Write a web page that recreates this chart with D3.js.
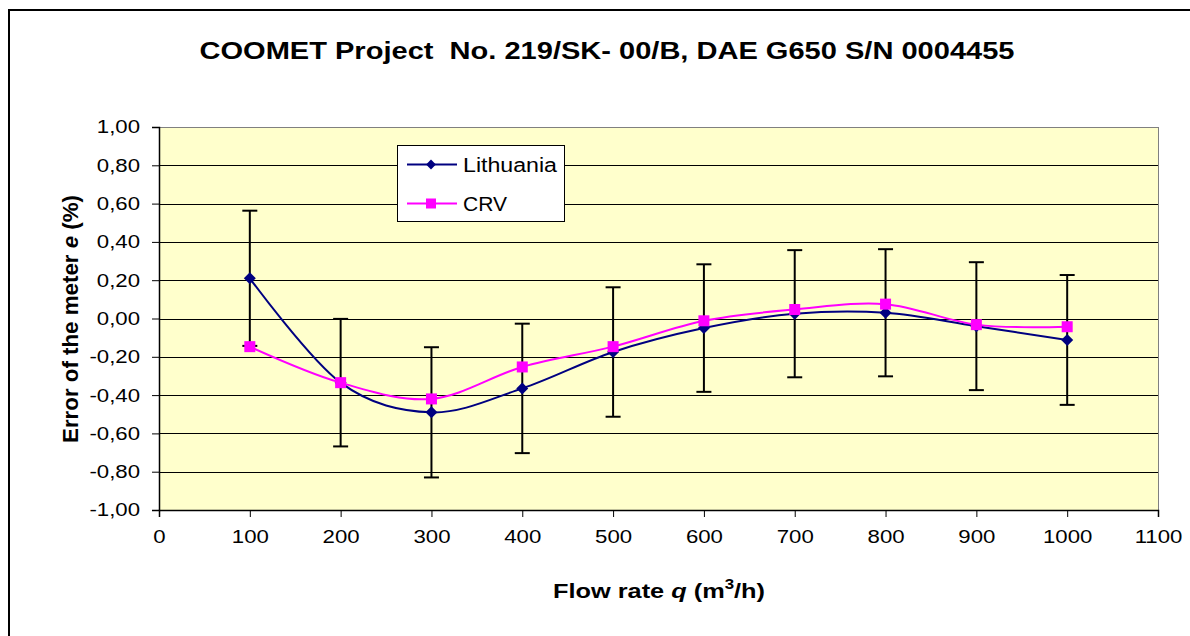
<!DOCTYPE html>
<html>
<head>
<meta charset="utf-8">
<script src="https://cdn.jsdelivr.net/npm/d3@7"></script>
<style>
  body { margin: 0; background: #fff; }
  text { font-family: "Liberation Sans", Arial, sans-serif; }
</style>
</head>
<body>
<div id="chart-area"></div>
<script>
// Data
const flowRates = [100, 200, 300, 400, 500, 600, 700, 800, 900, 1000]
const lithuania = [0.21, -0.335, -0.49, -0.365, -0.175, -0.05, 0.025, 0.03, -0.04, -0.112]
const crv = [-0.147, -0.335, -0.42, -0.253, -0.147, -0.012, 0.047, 0.075, -0.032, -0.043]
const uncertainty = [0.353, 0.333, 0.34, 0.338, 0.338, 0.333, 0.332, 0.332, 0.334, 0.339]
const xTicks = [0, 100, 200, 300, 400, 500, 600, 700, 800, 900, 1000, 1100]
const yTicks = [-1, -0.8, -0.6, -0.4, -0.2, 0, 0.2, 0.4, 0.6, 0.8, 1]

// the original picture is stretched sideways, so text is widened a bit
const SX = 1.2
function stretch(sel, len) {
	sel.each(function () {
		const l = len || this.getComputedTextLength() * SX
		d3.select(this).attr("textLength", l).attr("lengthAdjust", "spacingAndGlyphs")
	})
}

// Canvas
const W = 1190, H = 636
const margin = { left: 159, right: 32, top: 127, bottom: 126 },
	width = W - margin.left - margin.right,
	height = H - margin.top - margin.bottom

const svg = d3.select("#chart-area")
	.append("svg")
	.attr("width", W)
	.attr("height", H)

// outer chart frame (runs off the picture on right and bottom)
svg.append("rect")
	.attr("x", 9).attr("y", 10)
	.attr("width", W + 20).attr("height", H + 20)
	.attr("fill", "#fff")
	.attr("stroke", "#000")
	.attr("stroke-width", 2)

// Title
svg.append("text")
	.attr("x", 607)
	.attr("y", 59)
	.attr("text-anchor", "middle")
	.attr("font-size", "23px")
	.attr("font-weight", "bold")
	.style("white-space", "pre")
	.text("COOMET Project  No. 219/SK- 00/B, DAE G650 S/N 0004455")
	.call(stretch, 815)

const g = svg.append("g")
	.attr("transform", `translate(${margin.left}, ${margin.top})`)

// Scales
const x = d3.scaleLinear().domain([0, 1100]).range([0, width])
const y = d3.scaleLinear().domain([-1, 1]).range([height, 0])

const locale = d3.formatLocale({ decimal: ",", thousands: ".", grouping: [3], currency: ["", ""], minus: "-" })
const fmt = locale.format(".2f")

// Plot background
g.append("rect")
	.attr("width", width).attr("height", height)
	.attr("fill", "#FFFFCC")

// Grid
g.selectAll(".grid")
	.data(yTicks.filter(d => d > -1))
	.enter().append("line")
	.attr("x1", 0).attr("x2", width)
	.attr("y1", d => Math.round(y(d)) + 0.5).attr("y2", d => Math.round(y(d)) + 0.5)
	.attr("stroke", d => d === 1 ? "#808080" : "#000")
	.attr("stroke-width", 1)

// right border
g.append("line")
	.attr("x1", width + 0.5).attr("x2", width + 0.5)
	.attr("y1", 0).attr("y2", height)
	.attr("stroke", "#808080")

// Axes
const yAxisCall = d3.axisLeft(y).tickValues(yTicks).tickFormat(fmt).tickSize(7).tickPadding(12)
const yAxis = g.append("g").attr("class", "y axis").call(yAxisCall)

const xAxisCall = d3.axisBottom(x).tickValues(xTicks).tickFormat(d3.format("d")).tickSize(7).tickPadding(13)
const xAxis = g.append("g")
	.attr("class", "x axis")
	.attr("transform", `translate(0, ${height})`)
	.call(xAxisCall)

svg.selectAll(".axis path").attr("stroke", "#000").attr("stroke-width", 1.5)
svg.selectAll(".axis line").attr("stroke", "#000")
svg.selectAll(".axis text")
	.attr("font-family", "'Liberation Sans', Arial, sans-serif")
	.attr("font-size", "18.5px")
	.attr("fill", "#000")
	.call(stretch)

// Axes labels
const xLabel = svg.append("text")
	.attr("x", 659)
	.attr("y", 598)
	.attr("text-anchor", "middle")
	.attr("font-size", "21px")
	.attr("font-weight", "bold")
	.style("white-space", "pre")
xLabel.append("tspan").text("Flow rate ")
xLabel.append("tspan").attr("font-style", "italic").text("q")
xLabel.append("tspan").text(" (m")
xLabel.append("tspan").attr("font-size", "14px").attr("dy", -9).text("3")
xLabel.append("tspan").attr("dy", 9).text("/h)")
xLabel.call(stretch, 212)

const yLabel = svg.append("text")
	.attr("transform", `translate(77.5, 319) rotate(-90)`)
	.attr("text-anchor", "middle")
	.attr("font-size", "21.5px")
	.attr("font-weight", "bold")
	.style("white-space", "pre")
yLabel.append("tspan").text("Error of the meter ")
yLabel.append("tspan").attr("font-style", "italic").text("e")
yLabel.append("tspan").text(" (%)")
yLabel.call(stretch, 248)

// Error bars (around Lithuania)
const errs = g.append("g")
flowRates.forEach((q, i) => {
	const cx = x(q), top = y(lithuania[i] + uncertainty[i]), bot = y(lithuania[i] - uncertainty[i])
	errs.append("line").attr("x1", cx).attr("x2", cx).attr("y1", top).attr("y2", bot)
		.attr("stroke", "#000").attr("stroke-width", 2)
	errs.append("line").attr("x1", cx - 7.5).attr("x2", cx + 7.5).attr("y1", top).attr("y2", top)
		.attr("stroke", "#000").attr("stroke-width", 2)
	errs.append("line").attr("x1", cx - 7.5).attr("x2", cx + 7.5).attr("y1", bot).attr("y2", bot)
		.attr("stroke", "#000").attr("stroke-width", 2)
})

// Lines
const line = d3.line()
	.x((d, i) => x(flowRates[i]))
	.y(d => y(d))
	.curve(d3.curveCatmullRom.alpha(0))

const diamond = d3.symbol().type(d3.symbolDiamond2).size(92)
const diamondSmall = d3.symbol().type(d3.symbolDiamond2).size(62)

g.append("path").attr("d", line(lithuania))
	.attr("fill", "none").attr("stroke", "#000080").attr("stroke-width", 2)
g.selectAll(".lit")
	.data(lithuania).enter().append("path")
	.attr("d", diamond)
	.attr("transform", (d, i) => `translate(${x(flowRates[i])}, ${y(d)})`)
	.attr("fill", "#000080")

g.append("path").attr("d", line(crv))
	.attr("fill", "none").attr("stroke", "#FF00FF").attr("stroke-width", 2)
g.selectAll(".crv")
	.data(crv).enter().append("rect")
	.attr("x", (d, i) => x(flowRates[i]) - 5.5)
	.attr("y", d => y(d) - 5.5)
	.attr("width", 11).attr("height", 11)
	.attr("fill", "#FF00FF")

// Legend
const legend = svg.append("g").attr("transform", "translate(397, 145)")
legend.append("rect")
	.attr("x", 0.5).attr("y", 0.5).attr("width", 167).attr("height", 76)
	.attr("fill", "#fff").attr("stroke", "#000").attr("stroke-width", 1)
const legItems = [
	{ name: "Lithuania", color: "#000080", type: "diamond", w: 94 },
	{ name: "CRV", color: "#FF00FF", type: "square", w: 44 }
]
legItems.forEach((d, i) => {
	const ly = 19.5 + i * 39
	legend.append("line").attr("x1", 10).attr("x2", 60).attr("y1", ly).attr("y2", ly)
		.attr("stroke", d.color).attr("stroke-width", 2)
	if (d.type === "diamond") {
		legend.append("path").attr("d", diamondSmall).attr("transform", `translate(34, ${ly})`).attr("fill", d.color)
	} else {
		legend.append("rect").attr("x", 29).attr("y", ly - 5).attr("width", 10).attr("height", 10).attr("fill", d.color)
	}
	legend.append("text").attr("x", 66).attr("y", ly + 7)
		.attr("font-size", "20px").text(d.name)
		.call(stretch, d.w)
})
</script>
</body>
</html>
